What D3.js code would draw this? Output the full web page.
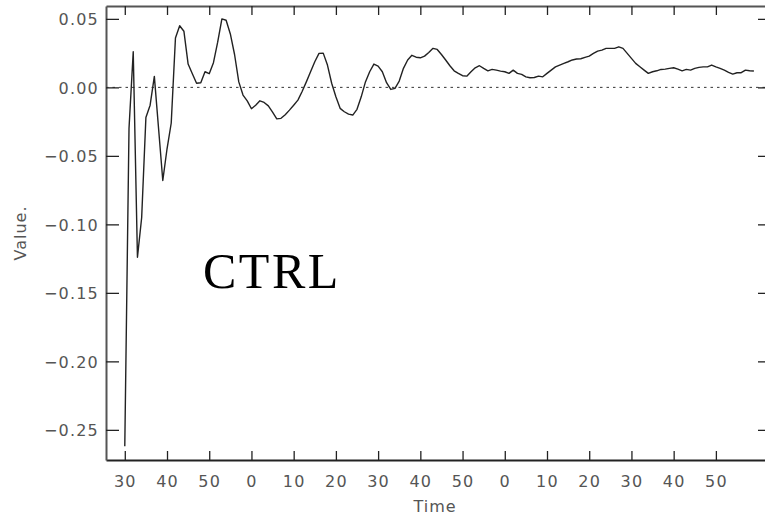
<!DOCTYPE html>
<html><head><meta charset="utf-8">
<script src="https://cdn.jsdelivr.net/npm/d3@7"></script>
<style>
body{margin:0;background:#fff;}
svg{display:block;}
.tk text{font-family:"DejaVu Sans",sans-serif;font-size:16px;fill:#555;letter-spacing:1.2px;}
</style></head>
<body>
<svg id="c" width="765" height="515"></svg>
<script>
// minutes since start of the first hour (labels shown as minute-of-hour)
const startMinute = 30;
const values = [
 -0.262,-0.030,0.026,-0.124,-0.095,-0.022,-0.013,0.008,-0.030,-0.068,
 -0.045,-0.026,0.036,0.045,0.041,0.017,0.010,0.003,0.0034,0.0114,
 0.010,0.018,0.033,0.050,0.049,0.039,0.024,0.004,-0.0056,-0.0098,
 -0.0156,-0.013,-0.0098,-0.011,-0.0135,-0.018,-0.023,-0.0226,-0.020,-0.0166,
 -0.013,-0.0093,-0.003,0.004,0.0114,0.0187,0.0248,0.025,0.0163,0.003,
 -0.0069,-0.0153,-0.0178,-0.0195,-0.0202,-0.016,-0.0069,0.004,0.0114,0.017,
 0.0155,0.0114,0.0034,-0.0015,-0.0007,0.0046,0.0139,0.020,0.0234,0.022,
 0.0216,0.0228,0.0255,0.0285,0.0277,0.024,0.020,0.0158,0.0121,0.0102,
 0.0085,0.0082,0.0114,0.0143,0.0158,0.0139,0.0121,0.0131,0.0126,0.0119,
 0.0114,0.0102,0.0126,0.0102,0.0095,0.0077,0.007,0.0072,0.0082,0.0077,
 0.0102,0.0126,0.015,0.0163,0.0175,0.0187,0.020,0.0207,0.0209,0.0219,
 0.0228,0.0248,0.0265,0.0272,0.0285,0.0285,0.0285,0.0296,0.0285,0.0248,
 0.0212,0.0175,0.015,0.0126,0.0102,0.0114,0.0121,0.0131,0.0133,0.0139,
 0.0143,0.0133,0.0121,0.0131,0.0126,0.0139,0.0146,0.015,0.015,0.0163,
 0.015,0.0139,0.0126,0.011,0.0097,0.0107,0.0107,0.0126,0.0121,0.0119
];
const xTicks = [30,40,50,60,70,80,90,100,110,120,130,140,150,160,170];
const yTicks = [0.05,0.00,-0.05,-0.10,-0.15,-0.20,-0.25];
const xDomain = [25.55, 181.87];
const yDomain = [-0.272, 0.0594];
const xTitle = "Time", yTitle = "Value.", panelLabel = "CTRL";

const data = values.map((v,i)=>({t:startMinute+i, v}));
const L=106,R=766,T=6,B=460;
const svg=d3.select("#c");
const x=d3.scaleLinear().domain(xDomain).range([L,R]);
const y=d3.scaleLinear().domain(yDomain).range([B,T]);

// zero line
svg.append("line").attr("x1",L).attr("x2",R).attr("y1",y(0)).attr("y2",y(0))
  .attr("stroke","#333").attr("stroke-width",1).attr("stroke-dasharray","2.5,4");

// axes
const fmtX = d => String(d%60);
const gB=svg.append("g").attr("class","tk").attr("transform",`translate(0,${B})`)
  .call(d3.axisBottom(x).tickValues(xTicks).tickFormat(fmtX).tickSizeInner(-9).tickSizeOuter(0).tickPadding(16));
const gT=svg.append("g").attr("class","tk").attr("transform",`translate(0,${T})`)
  .call(d3.axisTop(x).tickValues(xTicks).tickFormat("").tickSizeInner(-9).tickSizeOuter(0));
const gL=svg.append("g").attr("class","tk").attr("transform",`translate(${L},0)`)
  .call(d3.axisLeft(y).tickValues(yTicks).tickFormat(d3.format(".2f")).tickSizeInner(-13).tickSizeOuter(0).tickPadding(7));
const gR=svg.append("g").attr("class","tk").attr("transform",`translate(${R},0)`)
  .call(d3.axisRight(y).tickValues(yTicks).tickFormat("").tickSizeInner(-8).tickSizeOuter(0));
[gB,gT,gL,gR].forEach(g=>{
  g.select(".domain").attr("stroke","#555").attr("stroke-width",2);
  g.selectAll(".tick line").attr("stroke","#222").attr("stroke-width",1.3);
});
gB.select(".domain").attr("stroke","#222");
gL.selectAll(".tick text").attr("dy","0.36em");

// series
svg.append("path").datum(data)
  .attr("d",d3.line().x(d=>x(d.t)).y(d=>y(d.v)))
  .attr("fill","none").attr("stroke","#222").attr("stroke-width",1.4).attr("stroke-linejoin","round");

// titles
svg.append("text").attr("x",(L+764)/2).attr("y",512).attr("text-anchor","middle")
  .attr("font-family","DejaVu Sans, sans-serif").attr("font-size",16).attr("fill","#555").attr("letter-spacing",1)
  .text(xTitle);
svg.append("text").attr("transform",`translate(26,${(T+B)/2}) rotate(-90)`).attr("text-anchor","middle")
  .attr("font-family","DejaVu Sans, sans-serif").attr("font-size",16).attr("fill","#555").attr("letter-spacing",1)
  .text(yTitle);
svg.append("text").attr("x",203).attr("y",288)
  .attr("font-family","Liberation Serif, serif").attr("font-size",50).attr("fill","#000").attr("letter-spacing",2.5)
  .text(panelLabel);
</script>
</body></html>
